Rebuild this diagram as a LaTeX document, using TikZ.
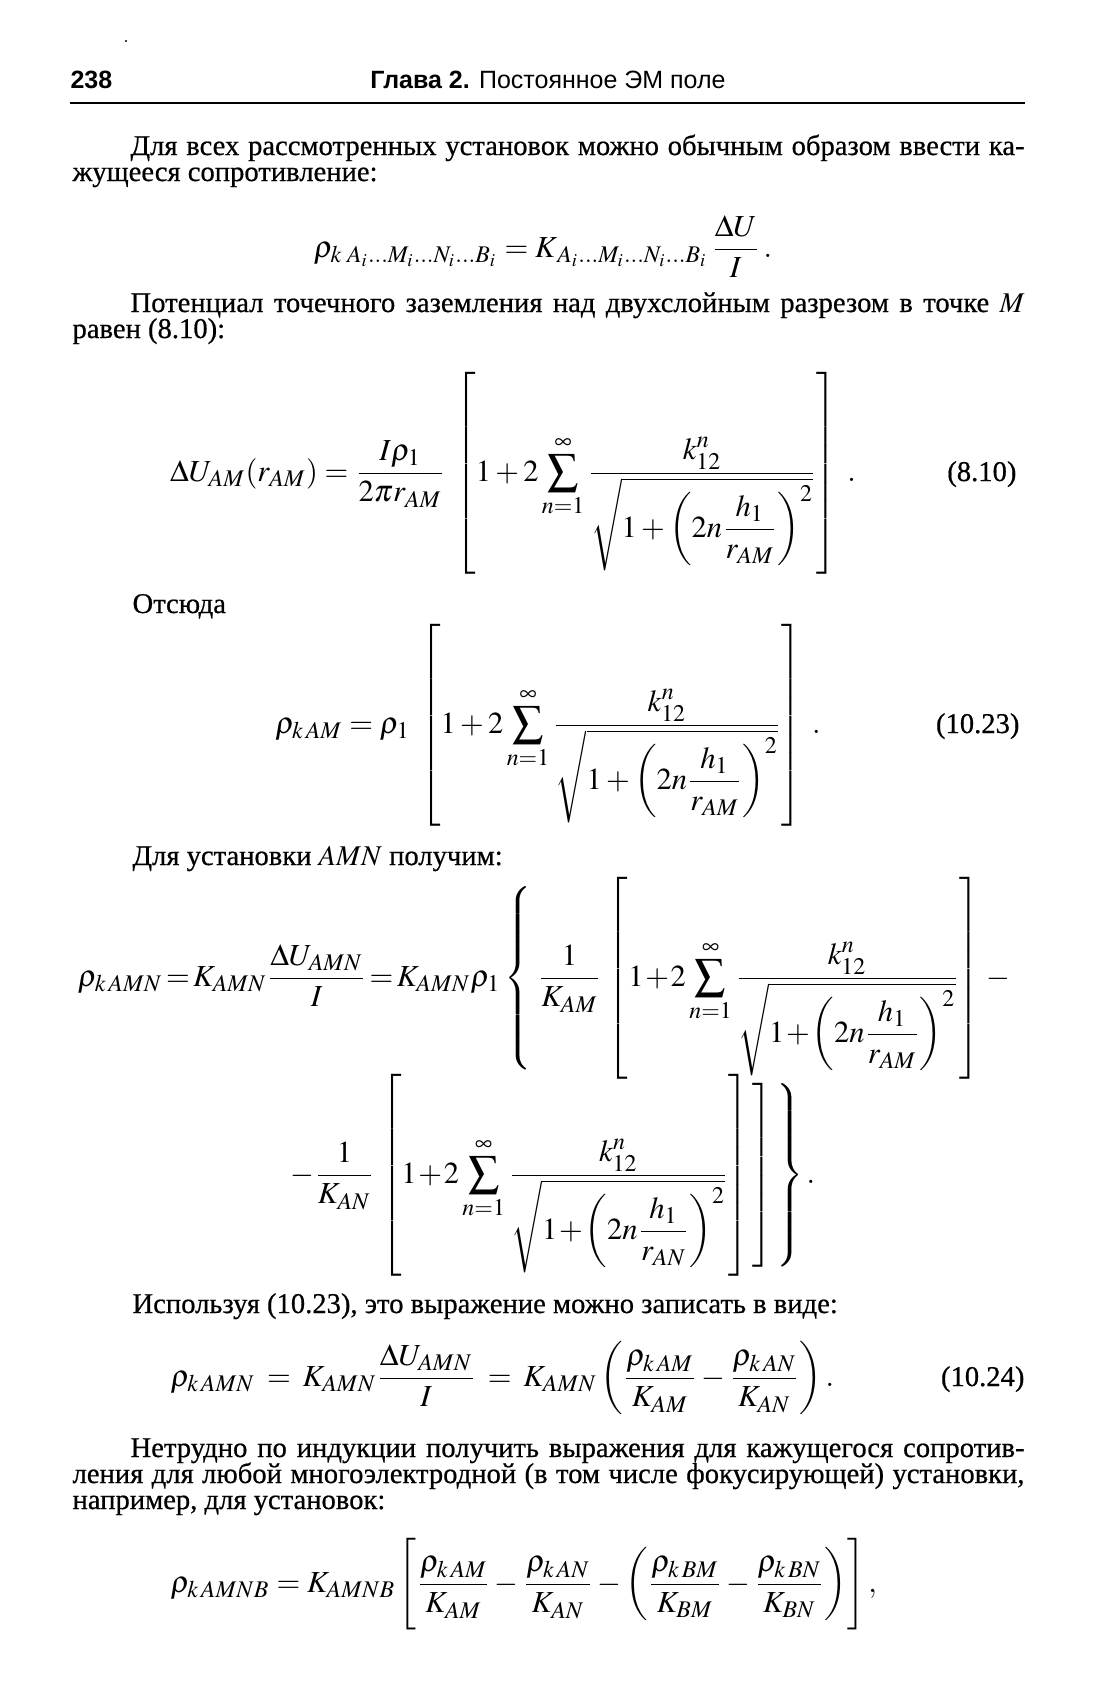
\documentclass[tikz,border=0pt]{standalone}
\usepackage{amsmath}
\usepackage{mathptmx}
\usepackage{fontspec}
\setmainfont{Liberation Serif}[RawFeature={embolden=0.6}]
\newfontfamily\headfont{Liberation Sans}
\DeclareMathSizes{11}{11}{8.6}{6.6}
\newlength\ux
\setlength\ux{0.36pt}
\newcommand{\jline}[2]{\makebox[#1\ux][s]{#2}}
\newcommand{\bstrut}{\vphantom{\rule[-29.4pt]{0pt}{63.7pt}}}
\newcommand{\serfrac}[1]{\frac{k_{12}^{n}}{\sqrt{1+\left(2n\dfrac{h_1}{r_{#1}}\right)^{2}}}}
\tikzset{
  txt/.style={anchor=base west, inner sep=0pt, font=\fontsize{10.3}{12}\selectfont},
  eqn/.style={anchor=base, inner sep=0pt, font=\fontsize{11}{13}\selectfont,
    execute at begin node={\delimiterfactor=1000 \delimitershortfall=0pt}},
  eqtag/.style={anchor=base east, inner sep=0pt, font=\fontsize{10.3}{12}\selectfont},
}
\begin{document}
\begin{tikzpicture}[x=\ux, y=-\ux]
\useasboundingbox (0,0) rectangle (1097,1684);
\fill (126,41) circle (1.2);
% header
\node[txt, font=\headfont\bfseries\fontsize{9}{10}\selectfont] (pnum) at (70,88) {238};
\node[anchor=base, inner sep=0pt, font=\headfont\fontsize{9}{10}\selectfont] (head) at (548,88) {\textbf{Глава 2.} Постоянное ЭМ поле};
\draw[line width=2.5\ux] (70,103) -- (1025,103);

% text and formulas
\node[txt] (p1a) at (130,155) {\jline{894}{Для всех рассмотренных установок можно обычным образом ввести ка-}};
\node[txt] (p1b) at (72,181) {жущееся сопротивление:};
\node[eqn] (eqK) at (543,257) {$\displaystyle \rho_{k\;A_i\ldots M_i\ldots N_i\ldots B_i}=K_{\,A_i\ldots M_i\ldots N_i\ldots B_i}\,\frac{\Delta U}{I}\,.$};

\node[txt] (p2a) at (130,312) {\jline{894}{Потенциал точечного заземления над двухслойным разрезом в точке $M$}};
\node[txt] (p2b) at (72,338) {равен (8.10):};
\node[eqn] (eqU) at (513,481) {$\displaystyle \Delta U_{AM}(r_{AM})=\frac{I\rho_1}{2\pi r_{AM}}\;\left[1+2\sum_{n=1}^{\infty}\serfrac{AM}\bstrut\right]\;.$};
\node[eqtag] (tagU) at (1017,481) {(8.10)};

\node[txt] (ots) at (132,613) {Отсюда};
\node[eqn] (eqR) at (548,733) {$\displaystyle \rho_{k\,AM}=\rho_1\;\left[1+2\sum_{n=1}^{\infty}\serfrac{AM}\bstrut\right]\;.$};
\node[eqtag] (tagR) at (1020,733) {(10.23)};

\node[txt] (amn) at (132,865) {Для установки $AMN$ получим:};
\node[eqn] (eqA) at (544,986) {$\displaystyle \thickmuskip=2mu \medmuskip=1mu \rho_{k\,AMN}=K_{AMN}\frac{\Delta U_{AMN}}{I}=K_{AMN}\rho_1\left\{\bstrut\right.\frac{1}{K_{AM}}\;\left[1+2\sum_{n=1}^{\infty}\serfrac{AM}\bstrut\right]\;-$};
\node[eqn] (eqB) at (553,1183) {$\displaystyle \thickmuskip=2mu \medmuskip=1mu -\frac{1}{K_{AN}}\;\left[1+2\sum_{n=1}^{\infty}\serfrac{AN}\bstrut\right]\!\left.\bstrut\right]\!\left.\bstrut\right\}.$};

\node[txt] (ispol) at (132,1313) {Используя (10.23), это выражение можно записать в виде:};
\node[eqn, anchor=base west] (eqC) at (170,1386) {$\displaystyle \thickmuskip=7mu plus 5mu \rho_{k\,AMN}=K_{AMN}\frac{\Delta U_{AMN}}{I}=K_{AMN}\left(\frac{\rho_{k\,AM}}{K_{AM}}-\frac{\rho_{k\,AN}}{K_{AN}}\right).$};
\node[eqtag] (tagC) at (1025,1386) {(10.24)};

\node[txt] (p3a) at (130,1457) {\jline{894}{Нетрудно по индукции получить выражения для кажущегося сопротив-}};
\node[txt] (p3b) at (72,1483) {\jline{952}{ления для любой многоэлектродной (в том числе фокусирующей) установки,}};
\node[txt] (p3c) at (72,1509) {например, для установок:};
\node[eqn, anchor=base west] (eqD) at (170,1592) {$\displaystyle \rho_{k\,AMNB}=K_{AMNB}\left[\frac{\rho_{k\,AM}}{K_{AM}}-\frac{\rho_{k\,AN}}{K_{AN}}-\left(\frac{\rho_{k\,BM}}{K_{BM}}-\frac{\rho_{k\,BN}}{K_{BN}}\right)\right],$};
\end{tikzpicture}
\end{document}
